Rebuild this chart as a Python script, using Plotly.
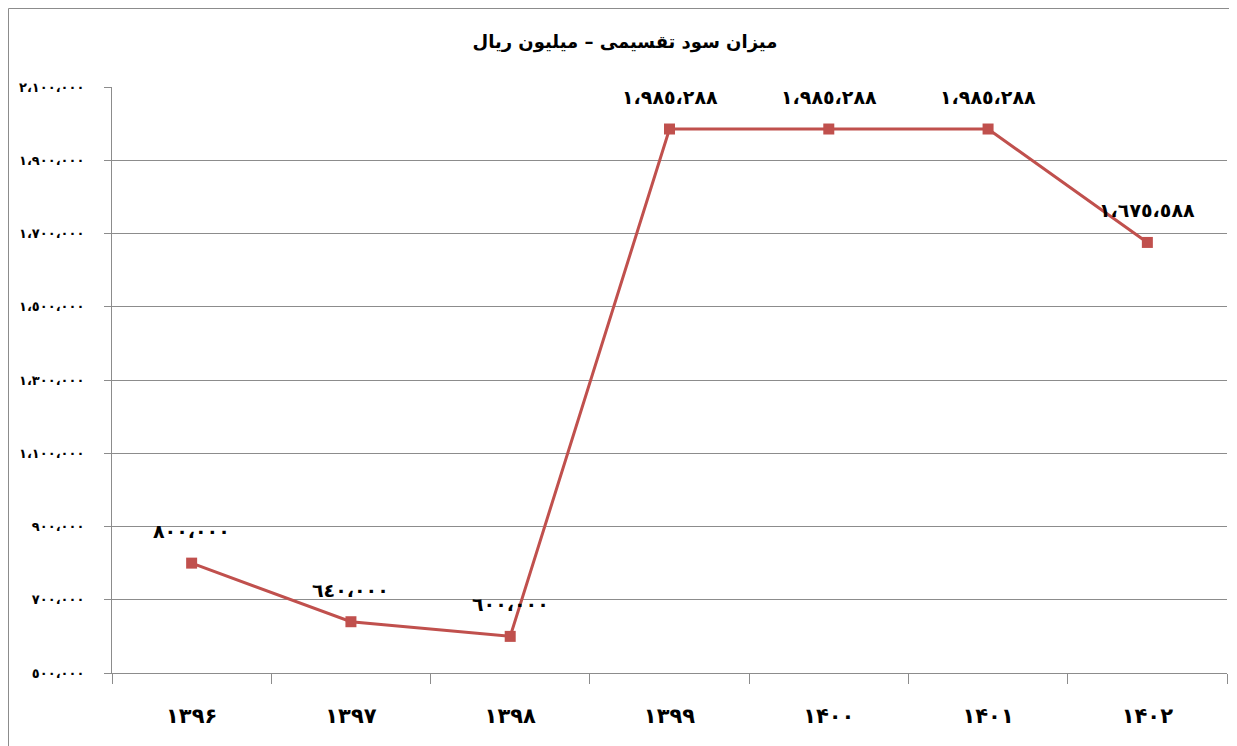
import plotly.graph_objects as go

categories = ["۱۳۹۶", "۱۳۹۷", "۱۳۹۸", "۱۳۹۹", "۱۴۰۰", "۱۴۰۱", "۱۴۰۲"]
values = [800000, 640000, 600000, 1985288, 1985288, 1985288, 1675588]
value_labels = ["٨٠٠،٠٠٠", "٦٤٠،٠٠٠", "٦٠٠،٠٠٠", "١،٩٨٥،٢٨٨", "١،٩٨٥،٢٨٨", "١،٩٨٥،٢٨٨", "١،٦٧٥،٥٨٨"]
y_tickvals = [500000, 700000, 900000, 1100000, 1300000, 1500000, 1700000, 1900000, 2100000]
y_ticktext = ["٥٠٠،٠٠٠", "٧٠٠،٠٠٠", "٩٠٠،٠٠٠", "١،١٠٠،٠٠٠", "١،٣٠٠،٠٠٠", "١،٥٠٠،٠٠٠", "١،٧٠٠،٠٠٠", "١،٩٠٠،٠٠٠", "٢،١٠٠،٠٠٠"]
title_text = "میزان سود تقسیمی – میلیون ریال"

FONT = "DejaVu Sans"
RED = "#C0504D"
GRID = "#8C8C8C"

W, H = 1229, 738
L, R, T, B = 104, 10, 79, 73
PW, PH = W - L - R, H - T - B

fig = go.Figure()
fig.add_trace(go.Scatter(
    x=categories, y=values, mode="lines+markers",
    line=dict(color=RED, width=3),
    marker=dict(symbol="square", size=11, color=RED),
    hoverinfo="skip", showlegend=False,
))

for c, v, t in zip(categories, values, value_labels):
    fig.add_annotation(x=c, y=v, text="<b>%s</b>" % t, showarrow=False,
                       yshift=32, font=dict(family=FONT, size=19, color="black"))

fig.update_layout(
    width=W, height=H,
    margin=dict(l=L, r=R, t=T, b=B),
    paper_bgcolor="white", plot_bgcolor="white",
    title=dict(text="<b>%s</b>" % title_text, x=0.502, xanchor="center",
               y=1 - 34 / H, yanchor="middle",
               font=dict(family=FONT, size=18, color="black")),
    xaxis=dict(
        type="category", range=[-0.5, 6.5],
        showline=True, linecolor=GRID, linewidth=1,
        ticks="outside", tickson="boundaries", ticklen=10, tickcolor=GRID,
        showgrid=False, zeroline=False,
        ticklabelstandoff=24,
        tickfont=dict(family=FONT, size=21, color="black"),
        ticktext=["<b>%s</b>" % c for c in categories], tickvals=categories,
    ),
    yaxis=dict(
        range=[500000, 2100000],
        tickvals=y_tickvals, ticktext=["<b>%s</b>" % t for t in y_ticktext],
        showline=True, linecolor=GRID, linewidth=1,
        ticks="outside", ticklen=7, tickcolor=GRID,
        showgrid=True, gridcolor=GRID, gridwidth=1,
        zeroline=False,
        ticklabelstandoff=17,
        tickfont=dict(family=FONT, size=13, color="black"),
    ),
)

# outer chart border (left/top visible, right/bottom run off the page)
fig.add_shape(type="rect", xref="paper", yref="paper",
              x0=(0.5 - L) / PW, x1=(W + 20 - L) / PW,
              y0=-(B + 20) / PH, y1=(PH + T - 0.5) / PH,
              line=dict(color=GRID, width=1), fillcolor="rgba(0,0,0,0)",
              layer="below")

fig.write_html("out.html")
